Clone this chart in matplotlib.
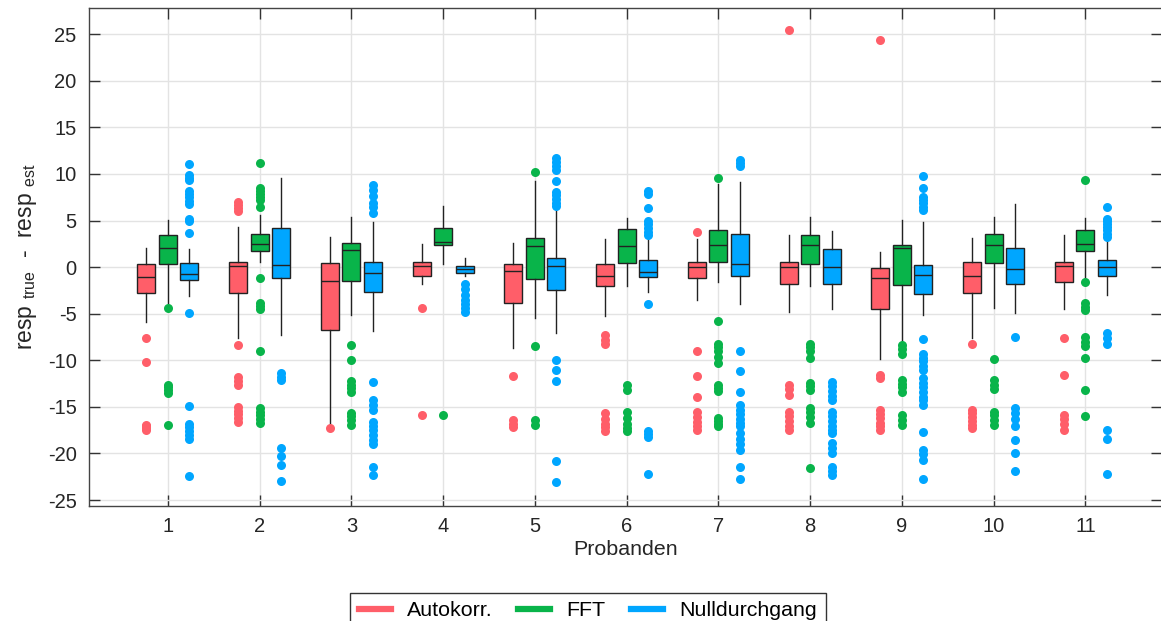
import matplotlib
matplotlib.use("Agg")
import matplotlib.pyplot as plt
from matplotlib.lines import Line2D

plt.rcParams["font.family"] = ["Liberation Sans", "DejaVu Sans"]
plt.rcParams["mathtext.fontset"] = "custom"
plt.rcParams["mathtext.rm"] = "Liberation Sans"
plt.rcParams["mathtext.it"] = "Liberation Sans"
plt.rcParams["axes.unicode_minus"] = False

# Daten: (whislo, q1, med, q3, whishi)
probanden = [1, 2, 3, 4, 5, 6, 7, 8, 9, 10, 11]
methoden = ["Autokorr.", "FFT", "Nulldurchgang"]
farben = ["#ff5e69", "#09b44a", "#00a6ff"]

auto_box = [(-5.9, -2.8, -1.1, 0.3, 2.1), (-7.6, -2.8, 0.1, 0.6, 4.3), (-17.3, -6.7, -1.5, 0.4, 3.2),
            (-1.8, -1.0, 0.1, 0.6, 2.5), (-8.7, -3.8, -0.4, 0.3, 2.6), (-5.2, -2.0, -1.0, 0.3, 3.0),
            (-3.5, -1.2, 0.0, 0.5, 3.0), (-4.8, -1.8, 0.0, 0.5, 3.5), (-9.9, -4.5, -1.2, -0.1, 1.6),
            (-7.6, -2.8, -0.9, 0.5, 3.1), (-4.5, -1.6, 0.1, 0.6, 3.4)]
fft_box = [(-3.8, 0.3, 2.1, 3.4, 5.1), (0.6, 1.7, 2.5, 3.6, 5.6), (-5.1, -1.5, 1.8, 2.6, 5.4),
           (0.3, 2.4, 2.7, 4.2, 6.6), (-5.5, -1.3, 2.3, 3.1, 9.2), (-2.0, 0.4, 2.3, 4.1, 5.3),
           (-1.6, 0.5, 2.4, 4.0, 8.9), (-2.0, 0.3, 2.4, 3.5, 5.4), (-8.0, -1.9, 2.0, 2.4, 5.1),
           (-4.4, 0.4, 2.4, 3.6, 5.4), (-1.2, 1.75, 2.5, 4.0, 5.3)]
null_box = [(-3.1, -1.4, -0.7, 0.4, 1.9), (-7.3, -1.2, 0.2, 4.2, 9.6), (-6.9, -2.7, -0.6, 0.5, 4.8),
            (-0.9, -0.6, -0.25, 0.1, 1.0), (-7.1, -2.5, 0.1, 1.0, 6.1), (-2.7, -1.1, -0.5, 0.8, 3.1),
            (-4.0, -0.9, 0.3, 3.6, 9.1), (-4.5, -1.8, 0.0, 1.9, 3.9), (-5.1, -2.9, -0.8, 0.2, 4.8),
            (-4.9, -1.8, -0.25, 2.0, 6.8), (-3.0, -0.9, 0.0, 0.75, 2.8)]

auto_fliers = [
    [-7.6, -10.2, -16.9, -17.1, -17.3, -17.5],
    [7.0, 6.7, 6.3, 6.0, -8.4, -11.8, -12.2, -12.6, -15.0, -15.4, -15.8, -16.2, -16.6],
    [-17.3],
    [-4.4, -15.9],
    [-11.7, -16.4, -16.8, -17.2],
    [-7.3, -7.8, -8.3, -15.7, -16.3, -16.8, -17.2, -17.6],
    [3.8, -9.0, -11.7, -13.9, -15.6, -16.1, -16.6, -17.1, -17.5],
    [25.4, -12.6, -13.1, -13.7, -15.5, -16.0, -16.5, -17.0, -17.5],
    [24.4, -11.6, -11.9, -15.3, -15.8, -16.2, -16.7, -17.1, -17.5],
    [-8.3, -15.3, -15.7, -16.1, -16.5, -16.9, -17.3],
    [-7.6, -11.6, -15.9, -16.3, -16.8, -17.5],
]
fft_fliers = [
    [-4.4, -12.6, -12.9, -13.2, -13.5, -16.9],
    [11.2, 8.5, 8.2, 7.9, 7.5, 7.2, 6.4, -1.2, -3.9, -4.2, -4.5, -9.0, -15.1, -15.5, -15.9, -16.3, -16.7],
    [-8.4, -10.0, -12.2, -12.6, -13.0, -13.4, -15.7, -16.0, -16.4, -16.9],
    [-15.9],
    [10.2, -8.5, -16.4, -16.9],
    [-12.6, -13.2, -15.6, -16.2, -16.8, -17.3, -17.6],
    [9.6, -5.8, -8.2, -8.6, -9.0, -9.6, -10.3, -12.6, -13.0, -13.3, -16.2, -16.5, -16.8, -17.1],
    [-8.2, -8.6, -9.0, -9.8, -12.4, -12.8, -13.2, -15.1, -15.6, -16.1, -16.7, -21.6],
    [-8.4, -8.8, -9.3, -12.1, -12.5, -12.9, -13.4, -15.9, -16.4, -16.9],
    [-9.9, -12.1, -12.6, -13.1, -15.5, -15.9, -16.4, -16.9],
    [9.3, -1.6, -3.9, -4.3, -4.6, -7.5, -8.0, -8.5, -9.8, -13.2, -16.0],
]
null_fliers = [
    [11.1, 9.9, 9.6, 9.3, 8.2, 7.8, 7.5, 7.1, 6.8, 5.2, 4.9, 3.7, -4.9, -14.9, -16.8, -17.2, -17.6, -18.0, -18.4, -22.4],
    [-11.4, -11.8, -12.1, -19.4, -20.3, -21.2, -23.0],
    [8.8, 8.3, 7.6, 6.9, 6.4, 5.8, -12.3, -14.3, -14.8, -15.3, -16.6, -17.0, -17.5, -18.0, -18.5, -19.0, -21.5, -22.3],
    [-1.8, -2.4, -3.0, -3.5, -4.0, -4.4, -4.8],
    [11.7, 11.3, 10.9, 10.4, 9.2, 8.1, 7.7, 7.3, 6.9, 6.6, -10.0, -11.0, -12.2, -20.8, -23.1],
    [8.2, 7.9, 6.3, 5.0, 4.6, 4.2, 3.8, 3.4, -4.0, -17.6, -17.9, -18.2, -22.2],
    [11.5, 11.2, 10.9, -9.0, -11.2, -13.4, -14.8, -15.3, -15.8, -16.3, -16.7, -17.1, -17.8, -18.4, -19.0, -19.6, -21.4, -22.7],
    [-12.3, -12.8, -13.3, -13.8, -14.3, -15.5, -16.0, -16.5, -17.0, -17.5, -17.8, -18.9, -19.4, -20.0, -21.4, -21.9, -22.3],
    [9.8, 8.5, 7.5, 7.2, 6.9, 6.5, 6.1, -7.7, -9.3, -9.7, -10.1, -10.6, -11.0, -11.9, -12.4, -12.9, -13.4,
     -13.9, -14.3, -14.8, -17.7, -19.6, -20.1, -20.7, -22.7],
    [-7.5, -15.1, -15.7, -16.3, -17.0, -18.6, -20.0, -21.9],
    [6.5, 5.2, 4.9, 4.6, 4.3, 4.0, 3.6, 3.2, -7.1, -7.6, -8.2, -17.5, -18.4, -22.2],
]

alle_boxen = [auto_box, fft_box, null_box]
alle_fliers = [auto_fliers, fft_fliers, null_fliers]
versatz = [-0.234, 0.0, 0.234]

fig = plt.figure(figsize=(11.61, 6.21), dpi=100)
ax = fig.add_axes([0.0767, 0.1857, 0.9238, 0.8013])

for boxen, fliers, farbe, dx in zip(alle_boxen, alle_fliers, farben, versatz):
    stats = []
    for (wl, q1, med, q3, wh), fl in zip(boxen, fliers):
        stats.append({"whislo": wl, "q1": q1, "med": med, "q3": q3, "whishi": wh, "fliers": fl})
    pos = [p + dx for p in probanden]
    ax.bxp(stats, positions=pos, widths=0.196, patch_artist=True, showcaps=False,
           boxprops=dict(facecolor=farbe, edgecolor="#222222", linewidth=1.0),
           whiskerprops=dict(color="#222222", linewidth=1.0),
           medianprops=dict(color="#222222", linewidth=1.0),
           flierprops=dict(marker="o", markerfacecolor=farbe, markeredgecolor="none", markersize=6.5),
           manage_ticks=False, zorder=3)

ax.set_xlim(0.14, 11.83)
ax.set_ylim(-25.6, 27.8)
ax.set_xticks(probanden)
ax.set_xticklabels([str(p) for p in probanden])
ax.set_yticks(range(-25, 30, 5))
ax.grid(True, color="#e3e3e3", linewidth=1.0, zorder=0)
ax.set_axisbelow(True)
ax.tick_params(axis="both", direction="in", length=8, width=1, color="#333333",
               labelsize=14.5, top=True, right=True, labelcolor="#262626")
ax.tick_params(axis="x", pad=8)
ax.tick_params(axis="y", pad=9)
for s in ax.spines.values():
    s.set_color("#444444")
    s.set_linewidth(1.0)

ax.set_xlabel("Probanden", fontsize=15.4, labelpad=3, color="#262626")
ax.set_ylabel(r"resp $_{\mathrm{true}}$  -  resp $_{\mathrm{est}}$", fontsize=16.5, labelpad=6, color="#262626")

handles = [Line2D([0], [0], color=f, linewidth=4.5) for f in farben]
leg = fig.legend(handles, methoden, loc="upper center", bbox_to_anchor=(0.5065, 0.0628), ncol=3,
                 fontsize=15.4, frameon=True, fancybox=False, edgecolor="black",
                 handlelength=1.5, handletextpad=0.75, columnspacing=1.2, borderpad=0.4)
leg.get_frame().set_linewidth(1.0)

plt.savefig("out.png", dpi=100)
plt.close()
